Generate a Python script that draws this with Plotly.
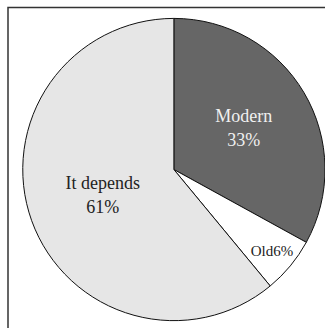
import plotly.graph_objects as go

labels = ["Modern", "Old", "It depends"]
values = [33, 6, 61]
colors = ["#666666", "#ffffff", "#e6e6e6"]
text_colors = ["#f0f0f0", "#222222", "#222222"]
text_sizes = [18, 15, 18]
templates = ["%{label}<br>%{percent:.0%}", "%{label}%{percent:.0%}", "%{label}<br>%{percent:.0%}"]

fig = go.Figure(go.Pie(
    labels=labels, values=values, sort=False, direction="clockwise", rotation=0,
    marker=dict(colors=colors, line=dict(color="#111111", width=1)),
    texttemplate=templates, textposition="inside", insidetextorientation="horizontal",
    insidetextfont=dict(family="Liberation Serif", size=text_sizes, color=text_colors),
    domain=dict(x=[0.07, 1.0], y=[0.0213, 0.945]),
    hoverinfo="skip", showlegend=False,
))
fig.update_layout(
    width=325, height=328, margin=dict(l=0, r=0, t=0, b=0),
    paper_bgcolor="white", plot_bgcolor="white",
    font=dict(family="Liberation Serif"),
    shapes=[dict(type="rect", xref="paper", yref="paper", x0=8/325, x1=1.2, y0=-0.2, y1=1-7.5/328,
                 line=dict(color="#333333", width=1.5))],
)
fig.write_html("out.html")
